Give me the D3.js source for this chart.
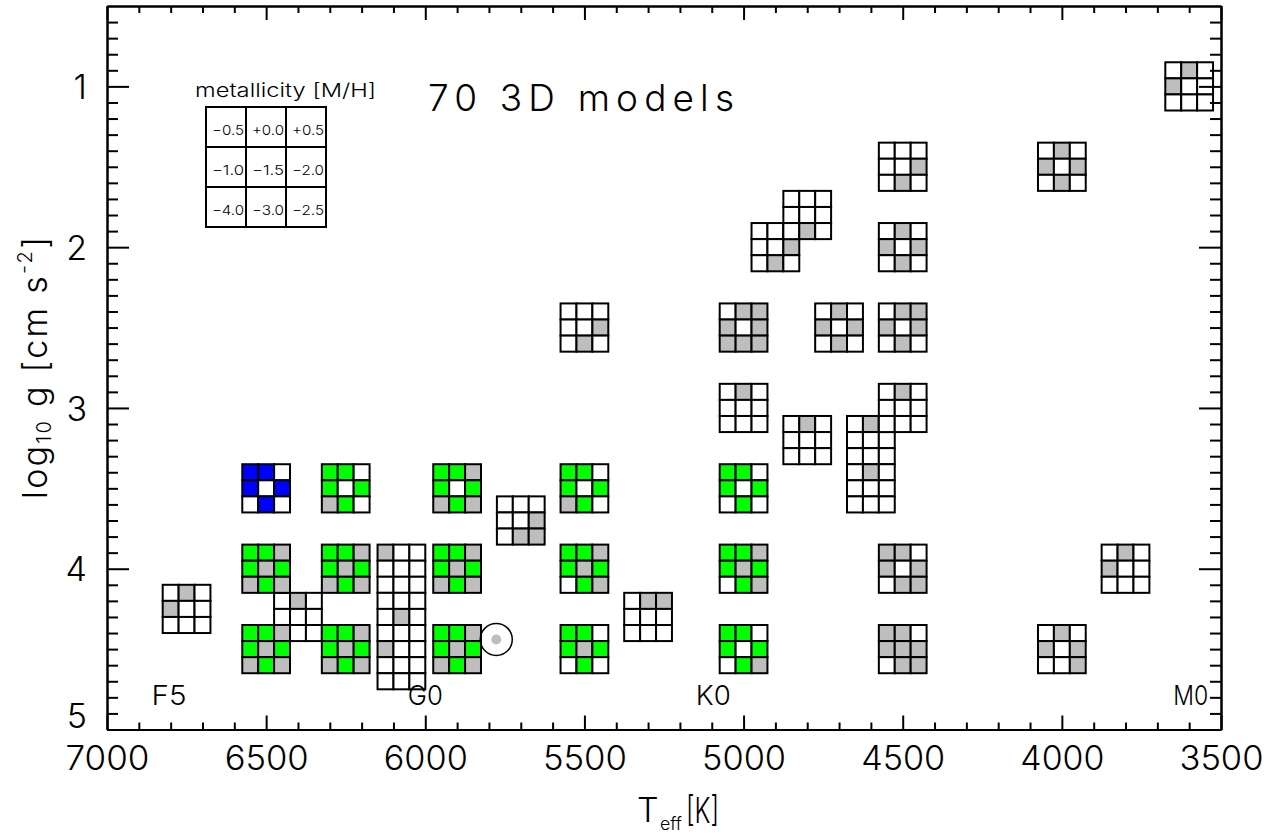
<!DOCTYPE html>
<html>
<head>
<meta charset="utf-8">
<script src="https://cdn.jsdelivr.net/npm/d3@7"></script>
<style>
  body { margin: 0; background: #fff; }
  svg { display: block; }
  text { font-family: "Inter", "DejaVu Sans", sans-serif; font-weight: 300; fill: #000; }
</style>
</head>
<body>
<svg id="chart" width="1283" height="836"></svg>
<script>
// ---- data -------------------------------------------------------------
const teffTicks = [7000, 6500, 6000, 5500, 5000, 4500, 4000, 3500];
const loggTicks = [1, 2, 3, 4, 5];

// model grid points (Teff [K], log g) and their 3x3 metallicity cells
// cell codes: w = empty, g = grey, G = green, B = blue
const modelTeff = [
  6750, 6400, 6075, 6075, 6075, 5700, 5500, 5300,
  5000, 5000, 4900, 4800, 4800, 4700, 4600, 4600,
  4500, 4500, 4500, 4500, 4500, 4500, 4000, 4000, 3800, 3600,
  6500, 6250, 5900, 5500, 5000,
  6500, 6250, 5900, 5500, 5000,
  6500, 6250, 5900, 5500, 5000
];
const modelLogg = [
  4.25, 4.3, 4.0, 4.3, 4.6, 3.7, 2.5, 4.3,
  2.5, 3.0, 2.0, 1.8, 3.2, 2.5, 3.2, 3.5,
  1.5, 2.0, 2.5, 3.0, 4.0, 4.5, 1.5, 4.5, 4.0, 1.0,
  3.5, 3.5, 3.5, 3.5, 3.5,
  4.0, 4.0, 4.0, 4.0, 4.0,
  4.5, 4.5, 4.5, 4.5, 4.5
];
const modelCells = [
  "wgwgwwwww", "wgwwwwwww", "gwwwwwwww", "wwwwgwwww", "gwwwwwwww",
  "wwwwwgwgg", "wwwwwgwgw", "wggwwwwww",
  "wgggwgggg", "wgwwwwwww", "wwwwwgwgw", "wwwwwwwgw", "wgwwwwwww",
  "wgwgwgwgw", "wgwwwwwww", "wgwwwwwww",
  "wwwwwgwgw", "wgwgwgwgw", "wgggwgwgw", "wgwwwwwww", "ggwgwgwgg", "ggwgggwgg",
  "wgwgwgwgw", "wgwgwgwwg", "wgwgwwwww", "wgwgwwwww",
  "BBwBwBwBw", "GGwGwGgGw", "GGgGwGgGg", "GGwGwGgGw", "GGwGwGwGw",
  "GGgGgGgGg", "GGgGgGgGg", "GGgGgGgGg", "GGgGgGwGg", "GGgGgGwGg",
  "GGgGgGgGg", "GGgGgGgGg", "GGgGgGgGg", "GGwGgGwGw", "GGwGwGwGg"
];

const legendTitle = "metallicity [M/H]";
const legendLabels = ["\u22120.5", "+0.0", "+0.5", "\u22121.0", "\u22121.5", "\u22122.0", "\u22124.0", "\u22123.0", "\u22122.5"];

const spectralTypes = ["F5", "G0", "K0", "M0"];
const spectralTeff = [6805, 6000, 5095, 3595];

const sunTeff = 5777, sunLogg = 4.44;
const title = "70 3D models";

// ---- layout -----------------------------------------------------------
const svg = d3.select("#chart");
const plotLeft = 107, plotRight = 1221, plotTop = 6, plotBottom = 729.5;

const x = d3.scaleLinear().domain([7000, 3500]).range([plotLeft, plotRight]);
const y = d3.scaleLinear().domain([0.5, 5.0]).range([plotTop, plotBottom]);

const fill = { w: "#ffffff", g: "#bebebe", G: "#00ff00", B: "#0000ff" };
const dT = 50, dG = 0.1;   // size of one metallicity cell in data units

// ---- model glyphs -----------------------------------------------------
const cells = [];
modelTeff.forEach((t, i) => {
  const g = modelLogg[i];
  for (let k = 0; k < 9; k++) {
    const r = Math.floor(k / 3), c = k % 3;
    cells.push({
      t0: t + 1.5 * dT - c * dT, t1: t + 0.5 * dT - c * dT,
      g0: g - 1.5 * dG + r * dG, g1: g - 0.5 * dG + r * dG,
      code: modelCells[i][k]
    });
  }
});

svg.append("g").selectAll("rect").data(cells).join("rect")
  .attr("x", d => x(d.t0))
  .attr("y", d => y(d.g0))
  .attr("width", d => x(d.t1) - x(d.t0))
  .attr("height", d => y(d.g1) - y(d.g0))
  .attr("fill", d => fill[d.code])
  .attr("stroke", "#000")
  .attr("stroke-width", 2);

// ---- Sun symbol -------------------------------------------------------
svg.append("circle").attr("cx", x(sunTeff)).attr("cy", y(sunLogg)).attr("r", 16)
  .attr("fill", "none").attr("stroke", "#000").attr("stroke-width", 1.5);
svg.append("circle").attr("cx", x(sunTeff)).attr("cy", y(sunLogg)).attr("r", 5)
  .attr("fill", "#bebebe");

// ---- spectral types ---------------------------------------------------
svg.append("g").selectAll("text").data(spectralTypes).join("text")
  .attr("x", (d, i) => x(spectralTeff[i]))
  .attr("y", 705)
  .attr("text-anchor", "middle")
  .attr("font-size", 27)
  .attr("textLength", 35).attr("lengthAdjust", "spacingAndGlyphs")
  .text(d => d);

// ---- title ------------------------------------------------------------
svg.append("text").attr("x", 428).attr("y", 111)
  .attr("font-size", 37).attr("font-weight", 200)
  .attr("textLength", 306).attr("lengthAdjust", "spacing")
  .text(title);

// ---- metallicity key --------------------------------------------------
const keyX = 206, keyY = 107, keyCell = 40;
svg.append("text").attr("x", 195).attr("y", 97)
  .attr("font-size", 19).attr("textLength", 181).attr("lengthAdjust", "spacingAndGlyphs")
  .text(legendTitle);
const key = svg.append("g");
key.selectAll("rect").data(legendLabels).join("rect")
  .attr("x", (d, i) => keyX + (i % 3) * keyCell)
  .attr("y", (d, i) => keyY + Math.floor(i / 3) * keyCell)
  .attr("width", keyCell).attr("height", keyCell)
  .attr("fill", "none").attr("stroke", "#000").attr("stroke-width", 2);
key.selectAll("text").data(legendLabels).join("text")
  .attr("x", (d, i) => keyX + (i % 3) * keyCell + keyCell / 2 + 2)
  .attr("y", (d, i) => keyY + Math.floor(i / 3) * keyCell + 28)
  .attr("text-anchor", "middle")
  .attr("font-size", 13.5).attr("font-weight", 400)
  .attr("textLength", 32).attr("lengthAdjust", "spacingAndGlyphs")
  .text(d => d);

// ---- axes -------------------------------------------------------------
const teffMinor = d3.range(6900, 3500, -100).filter(v => v % 500 !== 0);
const loggMinor = d3.range(6, 50).map(v => v / 10).filter(v => Math.abs(v - Math.round(v)) > 1e-6);

function styleAxis(g) {
  g.select(".domain").attr("stroke-width", 2);
  g.selectAll(".tick line").attr("stroke-width", 2);
}

// bottom
svg.append("g").attr("transform", `translate(0,${plotBottom})`)
  .call(d3.axisBottom(x).tickValues(teffMinor).tickSize(-7).tickSizeOuter(0).tickFormat(""))
  .call(styleAxis);
const xAxis = svg.append("g").attr("transform", `translate(0,${plotBottom})`)
  .call(d3.axisBottom(x).tickValues(teffTicks).tickSize(-14).tickSizeOuter(0).tickPadding(16).tickFormat(d3.format("d")))
  .call(styleAxis);
xAxis.selectAll(".tick text").attr("font-size", 34).attr("font-family", null)
  .attr("textLength", 84).attr("lengthAdjust", "spacingAndGlyphs");

// top
svg.append("g").attr("transform", `translate(0,${plotTop})`)
  .call(d3.axisTop(x).tickValues(teffMinor).tickSize(-7).tickSizeOuter(0).tickFormat(""))
  .call(styleAxis);
svg.append("g").attr("transform", `translate(0,${plotTop})`)
  .call(d3.axisTop(x).tickValues(teffTicks).tickSize(-14).tickSizeOuter(0).tickFormat(""))
  .call(styleAxis);

// left
svg.append("g").attr("transform", `translate(${plotLeft},0)`)
  .call(d3.axisLeft(y).tickValues(loggMinor).tickSize(-11).tickSizeOuter(0).tickFormat(""))
  .call(styleAxis);
const yAxis = svg.append("g").attr("transform", `translate(${plotLeft},0)`)
  .call(d3.axisLeft(y).tickValues(loggTicks).tickSize(-22).tickSizeOuter(0).tickPadding(20).tickFormat(d3.format("d")))
  .call(styleAxis);
yAxis.selectAll(".tick text").attr("font-size", 34).attr("font-family", null)
  .attr("dy", d => (y(d) + 12 > plotBottom ? "-0.05em" : "0.36em"));

// right
svg.append("g").attr("transform", `translate(${plotRight},0)`)
  .call(d3.axisRight(y).tickValues(loggMinor).tickSize(-11).tickSizeOuter(0).tickFormat(""))
  .call(styleAxis);
svg.append("g").attr("transform", `translate(${plotRight},0)`)
  .call(d3.axisRight(y).tickValues(loggTicks).tickSize(-22).tickSizeOuter(0).tickFormat(""))
  .call(styleAxis);

// ---- axis titles ------------------------------------------------------
const xt = svg.append("g");
xt.append("text").attr("x", 637).attr("y", 822).attr("font-size", 34).text("T");
xt.append("text").attr("x", 660).attr("y", 830).attr("font-size", 18)
  .attr("textLength", 22).attr("lengthAdjust", "spacingAndGlyphs").text("eff");
xt.append("text").attr("x", 686).attr("y", 823).attr("font-size", 36)
  .attr("textLength", 33).attr("lengthAdjust", "spacingAndGlyphs").text("[K]");

const yt = svg.append("text")
  .attr("transform", "translate(47,499) rotate(-90)")
  .attr("font-size", 34)
  .attr("textLength", 262).attr("lengthAdjust", "spacing");
yt.append("tspan").text("log");
yt.append("tspan").attr("font-size", 20).attr("dy", 4).text("10");
yt.append("tspan").attr("dy", -4).text(" g  [cm  s");
yt.append("tspan").attr("font-size", 20).attr("dy", -15).text("-2");
yt.append("tspan").attr("dy", 15).text("]");
</script>
</body>
</html>
